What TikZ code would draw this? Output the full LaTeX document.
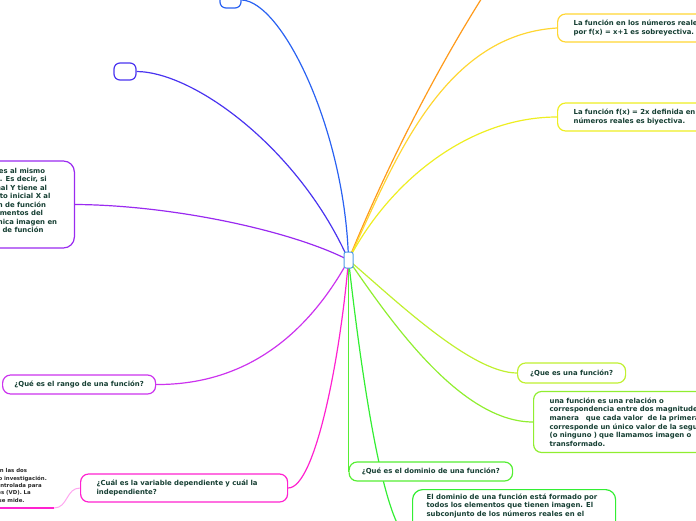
\documentclass[tikz,border=0pt]{standalone}
\usepackage{fontspec}
\newfontfamily\dvs{DejaVu Sans}
\usetikzlibrary{backgrounds}
\definecolor{txt}{HTML}{163F33}
\definecolor{smalltxt}{HTML}{2A2A2A}
\definecolor{cblue}{HTML}{4D9BE6}
\definecolor{topblue}{HTML}{2A62F2}
\definecolor{violet}{HTML}{4A34F0}
\definecolor{purp}{HTML}{9A2AF0}
\definecolor{rango}{HTML}{CC33EE}
\definecolor{pink}{HTML}{FF22D0}
\definecolor{lpink}{HTML}{FFA6F0}
\definecolor{orange}{HTML}{FF9A1A}
\definecolor{gold}{HTML}{FFD633}
\definecolor{lemon}{HTML}{EEEE22}
\definecolor{lime}{HTML}{C0F030}
\definecolor{ygreen}{HTML}{90EE30}
\definecolor{green1}{HTML}{55EE33}
\definecolor{green2}{HTML}{33EE33}
\tikzset{
  box/.style={draw, fill=white, rounded corners=8pt, line width=1.2pt, text=txt,
    font=\dvs\bfseries\fontsize{6.9}{8.6}\selectfont, inner ysep=3pt},
  tinybox/.style={draw, fill=white, rounded corners=6pt, line width=1.2pt, inner sep=0pt},
  conn/.style={line width=1.2pt},
  frag/.style={anchor=base east, text=txt, font=\dvs\bfseries\fontsize{6.9}{8.6}\selectfont, inner sep=0pt},
  smallfrag/.style={anchor=base east, text=smalltxt, font=\dvs\bfseries\fontsize{5.4}{7}\selectfont, inner sep=0pt}
}
\begin{document}
\begin{tikzpicture}[x=1pt,y=-1pt]
\useasboundingbox (0,0) rectangle (696,520);
\clip (0,0) rectangle (696,520);

% central node
\node[draw=cblue, fill=white, rounded corners=2pt, line width=1pt, minimum width=9pt, minimum height=16pt, inner sep=0pt] (c) at (348.5,260) {};

% top small nodes
\node[tinybox, draw=topblue, minimum width=21pt, minimum height=16pt] (tb) at (230.5,0) {};
\node[tinybox, draw=violet, minimum width=22pt, minimum height=17pt] (tv) at (125,71.5) {};
\coordinate (oe) at (500,-30);

% right nodes
\node[box, draw=gold, anchor=west, text width=165pt, inner xsep=16pt, minimum height=28pt, align=left] (B) at (557,28)
  {La función en los números reales\\por f(x) = x+1 es sobreyectiva.};
\node[box, draw=lemon, anchor=west, text width=165pt, inner xsep=16pt, minimum height=28pt, align=left] (C) at (557,117)
  {La función f(x) = 2x definida en\\números reales es biyectiva.};
\node[box, draw=lime, anchor=west, minimum width=108pt, minimum height=20pt] (D) at (517,373)
  {¿Que es una función?};
\node[box, draw=ygreen, anchor=west, text width=180pt, inner xsep=16pt, minimum height=61pt, align=left] (E) at (533,422)
  {una función es una relación o\\correspondencia entre dos magnitudes\\manera \ \ que cada valor \ de la primera\\corresponde un único valor de la segunda\\(o ninguno ) que llamamos imagen o\\transformado.};

% bottom nodes
\node[box, draw=green1, anchor=west, minimum width=163.5pt, minimum height=19pt] (F) at (348.5,471.5)
  {¿Qué es el dominio de una función?};
\node[box, draw=green2, anchor=north west, inner xsep=14pt, inner ysep=4pt, rounded corners=10pt] (G) at (412,489)
  {\parbox[c][92pt][t]{175pt}{\raggedright El dominio de una función está formado por\\todos los elementos que tienen imagen. El\\subconjunto de los números reales en el}};

% left nodes
\node[box, draw=pink, anchor=west, text width=175pt, inner xsep=16pt, minimum height=28pt, align=left] (H) at (80,488)
  {¿Cuál es la variable dependiente y cuál la\\independiente?};
\node[box, draw=rango, anchor=west, minimum width=153pt, minimum height=19pt] (J) at (2,384.5)
  {¿Qué es el rango de una función?};
\node[box, draw=purp, anchor=east, minimum width=260pt, minimum height=87pt, rounded corners=11pt] (K) at (75,204.5) {};

% purple node text (visible part)
\node[frag] (k1) at (45.3,173.0) {es al mismo};
\node[frag] (k2) at (47.0,181.55) {va. Es decir, si};
\node[frag] (k3) at (47.3,190.1) {inal Y tiene al};
\node[frag] (k4) at (50.7,198.65) {nto inicial X al};
\node[frag] (k5) at (46.3,207.2) {n de función};
\node[frag] (k6) at (43.3,215.75) {mentos del};
\node[frag] (k7) at (57.3,224.3) {nica imagen en};
\node[frag] (k8) at (43.7,232.85) {de función};

% small underlined text (child of H)
\node[smallfrag] (i1) at (27.3,472.5) {n las dos};
\node[smallfrag] (i2) at (47.0,480.0) {o o investigación.};
\node[smallfrag] (i3) at (42.0,487.3) {controlada para};
\node[smallfrag] (i4) at (31.0,494.6) {es (VD). La};
\node[smallfrag] (i5) at (24.7,502.0) {se mide.};
\coordinate (iu0) at (-5,508);
\coordinate (iu) at (54,508);

\begin{pgfonlayer}{background}
\draw[conn, topblue] (tb.east) .. controls (282,1) and (345,130) .. (c.center);
\draw[conn, violet] (tv.east) .. controls (195,72) and (300,150) .. (c.center);
\draw[conn, orange] (c.center) .. controls (385,170) and (440,60) .. (oe);
\draw[conn, gold] (c.center) .. controls (392,168) and (440,35) .. (B.west);
\draw[conn, lemon] (c.center) .. controls (390,180) and (470,117) .. (C.west);
\draw[conn, lime] (c.center) .. controls (390,295) and (470,373) .. (D.west);
\draw[conn, ygreen] (c.center) .. controls (390,320) and (460,422) .. (E.west);
\draw[conn, green1] (c.center) -- (F.west);
\draw[conn, green2] (c.center) .. controls (362,380) and (385,538) .. (G.west);
\draw[conn, pink] (c.center) .. controls (340,360) and (315,488) .. (H.east);
\draw[conn, rango] (c.center) .. controls (310,330) and (250,385) .. (J.east);
\draw[conn, purp] (c.center) .. controls (290,230) and (170,205) .. (K.east);
\draw[conn, lpink, line width=1pt] (iu) .. controls (68,508) and (66,488) .. (H.west);
\end{pgfonlayer}
\draw[pink, line width=1.5pt] (iu0) -- (iu);
\end{tikzpicture}
\end{document}
